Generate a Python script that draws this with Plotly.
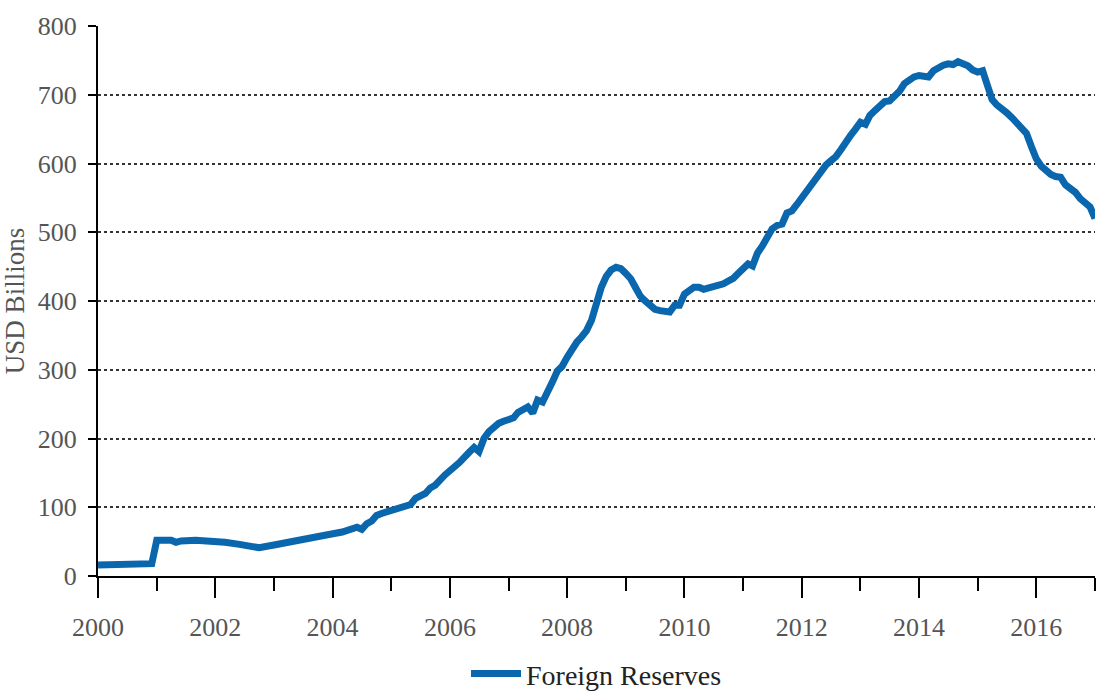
import plotly.graph_objects as go

# monthly readings, USD billions
months = [
    "2000-01", "2000-06", "2000-12", "2001-01", "2001-04", "2001-05", "2001-06", "2001-09", "2001-12",
    "2002-03", "2002-06", "2002-09", "2002-10", "2003-01", "2003-03", "2003-06", "2003-09", "2003-12",
    "2004-03", "2004-05", "2004-06", "2004-07", "2004-08", "2004-09", "2004-10", "2004-11",
    "2005-01", "2005-03", "2005-05", "2005-06", "2005-08", "2005-09", "2005-10", "2005-12",
    "2006-01", "2006-03", "2006-05", "2006-06", "2006-07", "2006-08", "2006-09", "2006-10", "2006-11", "2006-12",
    "2007-01", "2007-02", "2007-03", "2007-04", "2007-05", "2007-06", "2007-07", "2007-08", "2007-09",
    "2007-10", "2007-11", "2007-12",
    "2008-01", "2008-02", "2008-03", "2008-04", "2008-05", "2008-06", "2008-07", "2008-08", "2008-09",
    "2008-10", "2008-11", "2008-12",
    "2009-01", "2009-02", "2009-03", "2009-04", "2009-05", "2009-06", "2009-07", "2009-08", "2009-09",
    "2009-10", "2009-11", "2009-12",
    "2010-01", "2010-02", "2010-03", "2010-04", "2010-05", "2010-06", "2010-07", "2010-08", "2010-09",
    "2010-10", "2010-11", "2010-12",
    "2011-01", "2011-02", "2011-03", "2011-04", "2011-05", "2011-06", "2011-07", "2011-08", "2011-09",
    "2011-10", "2011-11", "2011-12",
    "2012-01", "2012-02", "2012-03", "2012-04", "2012-05", "2012-06", "2012-07", "2012-08", "2012-09",
    "2012-10", "2012-11", "2012-12",
    "2013-01", "2013-02", "2013-03", "2013-04", "2013-05", "2013-06", "2013-07", "2013-08", "2013-09",
    "2013-10", "2013-11", "2013-12",
    "2014-01", "2014-02", "2014-03", "2014-04", "2014-05", "2014-06", "2014-07", "2014-08", "2014-09",
    "2014-10", "2014-11", "2014-12",
    "2015-01", "2015-02", "2015-03", "2015-04", "2015-05", "2015-06", "2015-07", "2015-08", "2015-09",
    "2015-10", "2015-11", "2015-12",
    "2016-01", "2016-02", "2016-03", "2016-04", "2016-05", "2016-06", "2016-07", "2016-08", "2016-09",
    "2016-10", "2016-11", "2016-12", "2017-01",
]
reserves = [
    16, 16, 18, 52, 52, 49, 51, 52, 51,
    49, 46, 43, 41, 45, 48, 53, 56, 60,
    64, 70, 71, 68, 76, 80, 88, 91,
    95, 101, 104, 113, 120, 128, 132, 147,
    153, 165, 180, 187, 181, 200, 210, 217, 222, 225,
    227, 230, 238, 242, 246, 237, 256, 253, 266,
    282, 298, 305,
    318, 330, 340, 348, 357, 372, 398, 420, 436,
    445, 449, 447,
    440, 432, 420, 407, 400, 394, 388, 386, 386,
    384, 394, 394,
    410, 415, 420, 420, 417, 419, 421, 422, 425,
    429, 433, 440,
    448, 454, 451, 470, 480, 493, 505, 510, 512,
    528, 531, 540,
    550, 560, 567, 575, 588, 598, 604, 610, 620,
    632, 641, 650,
    660, 657, 670, 677, 684, 690, 691, 698, 705,
    716, 722, 726,
    728, 728, 726, 735, 740, 743, 745, 744, 748,
    746, 742, 736,
    733, 735, 712, 693, 685, 680, 674, 667, 660,
    653, 644, 625,
    607, 596, 590, 584, 581, 580, 569, 564, 558,
    549, 542, 537, 520,
]
dates = [m + "-01" for m in months]

font_family = "Liberation Serif, DejaVu Serif, serif"
grey = "#555555"

fig = go.Figure()
fig.add_trace(
    go.Scatter(
        x=dates,
        y=reserves,
        mode="lines",
        name="Foreign Reserves",
        line=dict(color="#0a66ad", width=7),
    )
)

fig.update_layout(
    width=1097,
    height=691,
    margin=dict(l=98, r=2, t=26, b=115, autoexpand=False),
    plot_bgcolor="white",
    paper_bgcolor="white",
    font=dict(family=font_family, color=grey, size=26),
    showlegend=True,
    legend=dict(
        orientation="h",
        x=0.5,
        xanchor="center",
        y=-0.178,
        yanchor="middle",
        itemwidth=50,
        font=dict(size=28, color="#222222"),
    ),
)

fig.update_xaxes(
    range=["2000-01-01", "2017-01-01"],
    type="date",
    dtick="M24",
    tick0="2000-01-01",
    tickformat="%Y",
    ticks="outside",
    ticklen=20,
    tickwidth=2,
    tickcolor="black",
    ticklabelstandoff=7,
    showline=True,
    linecolor="black",
    linewidth=2,
    showgrid=False,
    zeroline=False,
    minor=dict(dtick="M12", ticks="outside", ticklen=13, tickwidth=2, tickcolor="black", showgrid=False),
    tickfont=dict(size=26, color=grey),
)

fig.update_yaxes(
    range=[0, 800],
    dtick=100,
    ticks="outside",
    ticklen=8,
    tickwidth=2,
    tickcolor="black",
    ticklabelstandoff=6,
    showline=True,
    linecolor="black",
    linewidth=2,
    showgrid=True,
    gridcolor="#333333",
    gridwidth=1.5,
    griddash="dot",
    zeroline=False,
    title=dict(text="USD Billions", font=dict(size=27, color=grey), standoff=6),
    tickfont=dict(size=26, color=grey),
)

# drop the page's default body margin so the figure sits at the window's corner
fig.write_html(
    "out.html",
    config={"displayModeBar": False},
    post_script="document.body.style.margin='0px';",
)
